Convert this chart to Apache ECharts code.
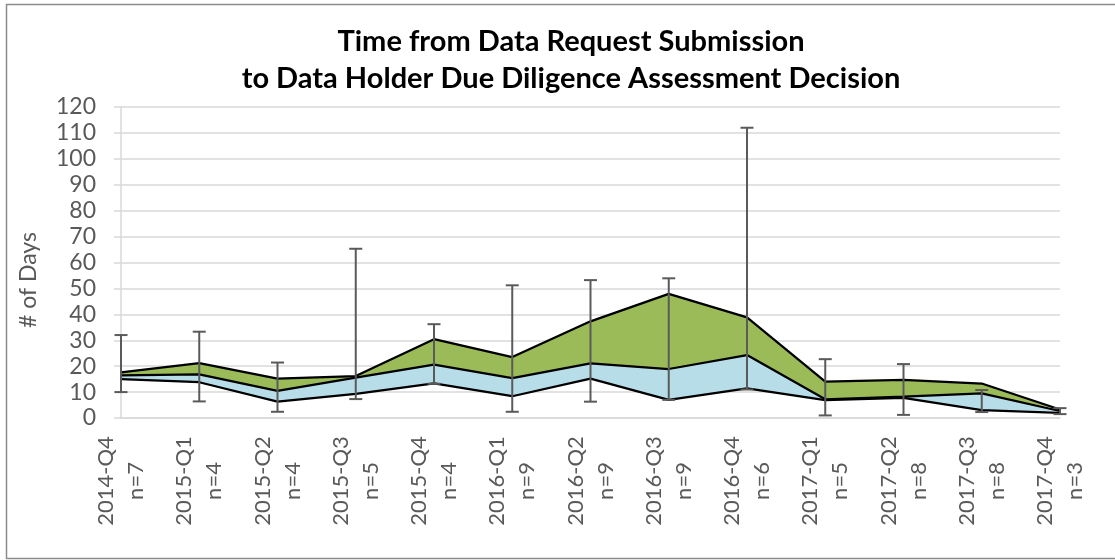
<!DOCTYPE html>
<html>
<head>
<meta charset="utf-8">
<script src="https://cdn.jsdelivr.net/npm/echarts@6/dist/echarts.min.js"></script>
<style>
html,body{margin:0;padding:0;background:#fff;}
#chart{width:1115px;height:560px;}
</style>
</head>
<body>
<div id="chart"></div>
<script>
const categories = ['2014-Q4','2015-Q1','2015-Q2','2015-Q3','2015-Q4','2016-Q1','2016-Q2','2016-Q3','2016-Q4','2017-Q1','2017-Q2','2017-Q3','2017-Q4'];
const nCounts = [7, 4, 4, 5, 4, 9, 9, 9, 6, 5, 8, 8, 3];
const lowerQuartile = [15, 13.8, 6.3, 9.3, 13.4, 8.4, 15.2, 7, 11.4, 6.9, 7.8, 3, 2];
const medianDays = [16.4, 16.8, 10.5, 15.6, 20.6, 15.4, 21.1, 18.9, 24.3, 7.2, 8.2, 9.5, 2.7];
const upperQuartile = [17.6, 21.2, 15.2, 16.2, 30.4, 23.5, 37.3, 47.9, 38.8, 14, 14.7, 13.3, 3.3];
const minDays = [10, 6.4, 2.4, 7.3, 13.2, 2.4, 6.3, 7, 11, 1, 1.2, 2.3, 1.5];
const maxDays = [32, 33.3, 21.4, 65.3, 36.2, 51.2, 53.2, 53.9, 112, 22.7, 20.8, 10.8, 3.8];
const yTicks = [0, 120, 10];

const FONT = 'Lato';
const blueBand = medianDays.map((m, i) => +(m - lowerQuartile[i]).toFixed(2));
const greenBand = upperQuartile.map((u, i) => +(u - medianDays[i]).toFixed(2));
const errData = categories.map((c, i) => [i, minDays[i], maxDays[i]]);

const chart = echarts.init(document.getElementById('chart'), null, {renderer: 'canvas'});
chart.setOption({
  animation: false,
  backgroundColor: '#ffffff',
  title: {
    text: 'Time from Data Request Submission\nto Data Holder Due Diligence Assessment Decision',
    left: 566, top: 18.5, textAlign: 'center',
    textStyle: {fontFamily: FONT, fontSize: 29, fontWeight: 'bold', color: '#000', lineHeight: 37}
  },
  graphic: [{
    type: 'rect', shape: {x: 6.5, y: 4.5, width: 1120, height: 554}, silent: true,
    style: {fill: 'none', stroke: '#8c8c8c', lineWidth: 1.5}
  }, {
    type: 'text', x: 29, y: 280, rotation: Math.PI / 2, silent: true,
    style: {text: '# of Days', fontFamily: FONT, fontSize: 23, fill: '#595959', align: 'center', verticalAlign: 'middle'}
  }],
  grid: {left: 121, right: 55, top: 107, bottom: 142},
  xAxis: {
    type: 'category', data: categories, boundaryGap: false,
    axisLine: {show: true, lineStyle: {color: '#d9d9d9', width: 1.5}},
    axisTick: {show: false},
    axisLabel: {
      rotate: 90, align: 'center', verticalAlign: 'middle', margin: 63,
      fontFamily: FONT, fontSize: 22, color: '#595959', lineHeight: 30,
      formatter: (v, i) => v + '\nn=' + nCounts[i]
    }
  },
  yAxis: {
    type: 'value', min: yTicks[0], max: yTicks[1], interval: yTicks[2],
    axisLine: {show: true, lineStyle: {color: '#d9d9d9', width: 1.5}},
    axisTick: {show: true, length: 7, lineStyle: {color: '#d9d9d9', width: 1.5}},
    splitLine: {show: true, lineStyle: {color: '#d9d9d9', width: 1.5}},
    axisLabel: {fontFamily: FONT, fontSize: 23, color: '#595959', margin: 25}
  },
  series: [
    {
      name: 'Lower', type: 'line', stack: 'q', data: lowerQuartile,
      symbol: 'none', lineStyle: {color: '#000', width: 2.25}, z: 3
    },
    {
      name: 'Median', type: 'line', stack: 'q', data: blueBand,
      symbol: 'none', lineStyle: {color: '#000', width: 2.25},
      areaStyle: {color: '#b7dde8', opacity: 1}, z: 3
    },
    {
      name: 'Upper', type: 'line', stack: 'q', data: greenBand,
      symbol: 'none', lineStyle: {color: '#000', width: 2.25},
      areaStyle: {color: '#9bbb59', opacity: 1}, z: 2
    },
    {
      name: 'Range', type: 'custom', data: errData, z: 5,
      encode: {x: 0, y: [1, 2]},
      renderItem: function (params, api) {
        const i = api.value(0);
        const lo = api.coord([i, api.value(1)]);
        const hi = api.coord([i, api.value(2)]);
        const w = 6.5;
        const st = {stroke: '#5a5a5a', lineWidth: 2, fill: 'none'};
        return {
          type: 'group',
          children: [
            {type: 'line', shape: {x1: lo[0], y1: lo[1], x2: hi[0], y2: hi[1]}, style: st},
            {type: 'line', shape: {x1: lo[0] - w, y1: lo[1], x2: lo[0] + w, y2: lo[1]}, style: st},
            {type: 'line', shape: {x1: hi[0] - w, y1: hi[1], x2: hi[0] + w, y2: hi[1]}, style: st}
          ]
        };
      }
    }
  ]
});
</script>
</body>
</html>
